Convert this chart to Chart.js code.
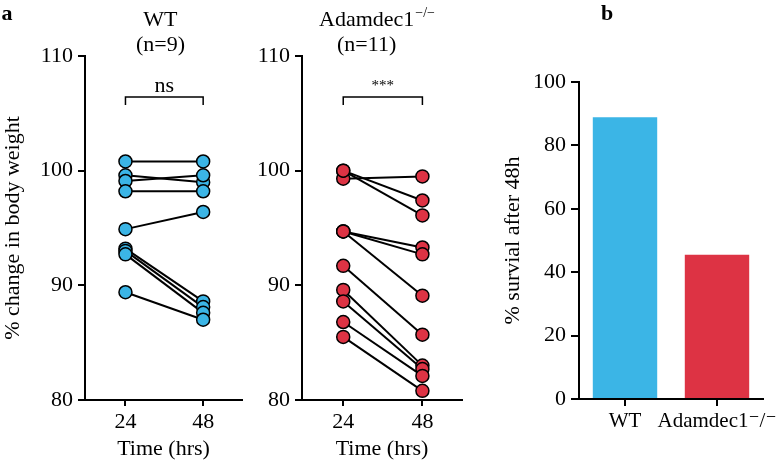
<!DOCTYPE html>
<html>
<head>
<meta charset="utf-8">
<script src="https://cdn.jsdelivr.net/npm/chart.js@4/dist/chart.umd.min.js"></script>
<style>
  body { margin: 0; background: #fff; width: 779px; height: 462px; position: relative; overflow: hidden; }
  .p { position: absolute; top: 0; height: 462px; }
</style>
</head>
<body>
<div class="p" style="left:0;width:250px"><canvas id="c1"></canvas></div>
<div class="p" style="left:250px;width:220px"><canvas id="c2"></canvas></div>
<div class="p" style="left:500px;width:279px"><canvas id="c3"></canvas></div>
<script>
// time points (hrs)
const times = [24, 48];
// % change in body weight, one entry per mouse
const wt24 = [100.8, 99.6, 99.1, 98.2, 94.9, 93.2, 93.0, 92.7, 89.4];
const wt48 = [100.8, 99.0, 99.6, 98.2, 96.4, 88.6, 88.1, 87.6, 87.0];
const ko24 = [99.3, 100.0, 100.0, 94.7, 94.7, 94.7, 91.7, 89.6, 88.6, 86.8, 85.5];
const ko48 = [99.5, 97.4, 96.1, 93.3, 92.7, 89.1, 85.7, 83.0, 82.7, 82.1, 80.8];
const weightTicks = [80, 90, 100, 110];
// survival panel
const groups = ['WT', 'Adamdec1\u207B/\u207B'];
const survival = [88.9, 45.5];

const blue = '#3bb5e6', red = '#dd3344';
const FONT = '"Liberation Serif", "DejaVu Serif", serif';
Chart.defaults.font.family = FONT;
Chart.defaults.font.size = 22;
Chart.defaults.color = '#000';

// titles, brackets and panel letters
const annotate = {
  id: 'annotate',
  afterDraw(chart, args, o) {
    const ctx = chart.ctx;
    const x = chart.scales.x;
    ctx.save();
    ctx.fillStyle = '#000';
    ctx.strokeStyle = '#000';
    ctx.lineWidth = 1.5;
    ctx.textAlign = 'center';
    ctx.textBaseline = 'middle';
    if (o.letter) {
      ctx.font = 'bold 22px ' + FONT;
      ctx.fillText(o.letter, o.letterX, 14);
    }
    if (o.title) {
      const cx = x.getPixelForValue(o.titleAt);
      ctx.font = '22px ' + FONT;
      ctx.fillText(o.title, cx, 20);
      if (o.sup) {
        const w = ctx.measureText(o.title).width;
        ctx.font = '14px ' + FONT;
        ctx.textAlign = 'left';
        ctx.fillText(o.sup, cx + w / 2 + 1, 13);
        ctx.textAlign = 'center';
        ctx.font = '22px ' + FONT;
      }
      ctx.fillText(o.n, cx, 45);
    }
    if (o.sig) {
      const x1 = x.getPixelForValue(times[0]), x2 = x.getPixelForValue(times[1]);
      ctx.beginPath();
      ctx.moveTo(x1, 105); ctx.lineTo(x1, 97); ctx.lineTo(x2, 97); ctx.lineTo(x2, 105);
      ctx.stroke();
      ctx.font = o.sigSize + 'px ' + FONT;
      ctx.fillText(o.sig, (x1 + x2) / 2, o.sigY);
    }
    ctx.restore();
  }
};

function pairedSets(a, b, fill) {
  const sets = a.map((v, i) => ({
    data: [{x: times[0], y: v}, {x: times[1], y: b[i]}],
    borderColor: '#000', borderWidth: 2, pointRadius: 0, order: 1
  }));
  sets.push({
    data: a.map(v => ({x: times[0], y: v})).concat(b.map(v => ({x: times[1], y: v}))),
    showLine: false, pointRadius: 6.5, pointBackgroundColor: fill,
    pointBorderColor: '#000', pointBorderWidth: 1.5, order: 0
  });
  return sets;
}

const axisGrid = len => ({drawOnChartArea: false, color: '#000', lineWidth: 2, tickLength: len});
const axisBorder = {color: '#000', width: 2};

function pairedOptions(yWidth, padRight, yTitle, note) {
  return {
    responsive: true, maintainAspectRatio: false, animation: false,
    layout: {padding: {top: 56, right: padRight, bottom: 0, left: 0}},
    plugins: {legend: {display: false}, tooltip: {enabled: false}, annotate: note},
    scales: {
      x: {
        type: 'linear', min: 11.5, max: 60,
        afterBuildTicks: s => { s.ticks = times.map(v => ({value: v})); },
        afterFit: s => { s.height = 62; },
        grid: axisGrid(6), border: axisBorder,
        ticks: {padding: 3},
        title: {display: true, text: 'Time (hrs)', padding: 0}
      },
      y: {
        min: 80, max: 110,
        afterBuildTicks: s => { s.ticks = weightTicks.map(v => ({value: v})); },
        afterFit: s => { s.width = yWidth; },
        grid: axisGrid(7), border: axisBorder,
        ticks: {padding: 5},
        title: yTitle ? {display: true, text: yTitle, padding: 0} : {display: false}
      }
    }
  };
}

new Chart(document.getElementById('c1'), {
  type: 'line',
  data: {datasets: pairedSets(wt24, wt48, blue)},
  options: pairedOptions(85, 7, '% change in body weight',
    {letter: 'a', letterX: 7, title: 'WT', n: '(n=9)', titleAt: 34.8, sig: 'ns', sigSize: 22, sigY: 86}),
  plugins: [annotate]
});

new Chart(document.getElementById('c2'), {
  type: 'line',
  data: {datasets: pairedSets(ko24, ko48, red)},
  options: pairedOptions(52, 8, null,
    {title: 'Adamdec1', sup: '\u2212/\u2212', n: '(n=11)', titleAt: 31.1, sig: '***', sigSize: 15, sigY: 86}),
  plugins: [annotate]
});

new Chart(document.getElementById('c3'), {
  type: 'bar',
  data: {
    labels: groups,
    datasets: [{data: survival, backgroundColor: [blue, red], barPercentage: 0.7, categoryPercentage: 1}]
  },
  options: {
    responsive: true, maintainAspectRatio: false, animation: false,
    layout: {padding: {top: 82, right: 16, bottom: 0, left: 0}},
    plugins: {legend: {display: false}, tooltip: {enabled: false}, annotate: {letter: 'b', letterX: 107}},
    scales: {
      x: {
        grid: Object.assign(axisGrid(7), {offset: false}), border: axisBorder,
        ticks: {padding: 3, autoSkip: false, minRotation: 0, maxRotation: 0, font: {size: 21}},
        afterFit: s => { s.height = 63; s.paddingLeft = 0; s.paddingRight = 0; }
      },
      y: {
        min: 0, max: 100,
        ticks: {stepSize: 20, padding: 5},
        afterFit: s => { s.width = 79; },
        grid: axisGrid(8), border: axisBorder,
        title: {display: true, text: '% survial after 48h', padding: 0}
      }
    }
  },
  plugins: [annotate]
});
</script>
</body>
</html>
